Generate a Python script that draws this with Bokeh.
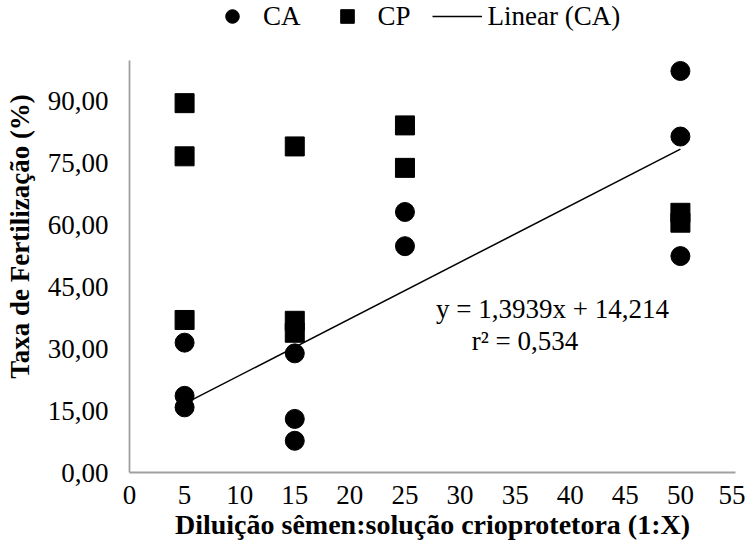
import numpy as np
from bokeh.plotting import figure
from bokeh.models import Range1d, FixedTicker, Legend, LegendItem, Label
from bokeh.embed import file_html
from bokeh.resources import INLINE

# Data
ca_x = [5, 5, 5, 15, 15, 15, 25, 25, 50, 50, 50]
ca_y = [31.5, 18.6, 15.8, 28.9, 13.0, 7.7, 63.2, 54.9, 97.4, 81.5, 52.5]
cp_x = [5, 5, 5, 15, 15, 15, 25, 25, 50, 50]
cp_y = [89.6, 76.7, 37.0, 79.1, 36.8, 33.9, 84.2, 73.9, 63.0, 60.6]
x_ticks = [0, 5, 10, 15, 20, 25, 30, 35, 40, 45, 50, 55]
y_ticks = [0, 15, 30, 45, 60, 75, 90]
y_tick_labels = ["0,00", "15,00", "30,00", "45,00", "60,00", "75,00", "90,00"]
equation_text = "y = 1,3939x + 14,214"
r2_text = "r\u00b2 = 0,534"

FONT = "Liberation Serif"

# frame spans full top of figure; the y axis line is limited to 0..100 via bounds
p = figure(width=745, height=542, output_backend="svg", toolbar_location=None,
           x_range=Range1d(0, 55), y_range=Range1d(0, 114.5),
           min_border_left=129, min_border_right=10, min_border_top=0, min_border_bottom=68)
p.outline_line_color = None
p.xgrid.visible = False
p.ygrid.visible = False

# trend line computed from the CA data
slope, intercept = np.polyfit(ca_x, ca_y, 1)
tx = [min(ca_x), max(ca_x)]
ty = [slope * v + intercept for v in tx]

r_ca = p.scatter(ca_x, ca_y, marker="circle", size=19, color="black")
r_cp = p.scatter(cp_x, cp_y, marker="square", size=19, color="black")
r_lin = p.line(tx, ty, line_color="black", line_width=1.5)

for ax in (p.xaxis[0], p.yaxis[0]):
    ax.axis_line_color = "#a0a0a0"
    ax.axis_line_width = 1.8
    ax.major_tick_line_color = None
    ax.minor_tick_line_color = None
    ax.major_tick_out = 0
    ax.major_tick_in = 0
    ax.major_label_text_font = FONT
    ax.major_label_text_font_size = "27px"
    ax.major_label_text_color = "black"
    ax.axis_label_text_font = FONT
    ax.axis_label_text_font_style = "bold"
    ax.axis_label_text_color = "black"

p.xaxis.axis_label_text_font_size = "28px"
p.yaxis.axis_label_text_font_size = "27px"
p.yaxis.bounds = (0, 100)
p.xaxis.ticker = FixedTicker(ticks=x_ticks)
p.yaxis.ticker = FixedTicker(ticks=y_ticks)
p.yaxis.major_label_overrides = {t: l for t, l in zip(y_ticks, y_tick_labels)}
p.xaxis.major_label_standoff = 13
p.yaxis.major_label_standoff = 21
p.xaxis.axis_label_standoff = 2
p.yaxis.axis_label_standoff = 10
p.xaxis.axis_label = "Diluição sêmen:solução crioprotetora (1:X)"
p.yaxis.axis_label = "Taxa de Fertilização (%)"

p.add_layout(Label(x=38.4, y=39.6, text=equation_text, text_font=FONT,
                   text_font_size="27px", text_align="center", text_baseline="middle",
                   text_color="black"))
p.add_layout(Label(x=35.9, y=31.9, text=r2_text, text_font=FONT,
                   text_font_size="27px", text_align="center", text_baseline="middle",
                   text_color="black"))

legend = Legend(items=[LegendItem(label="CA", renderers=[r_ca]),
                       LegendItem(label="CP", renderers=[r_cp]),
                       LegendItem(label="Linear (CA)", renderers=[r_lin])],
                orientation="horizontal", location=(78, 439),
                glyph_width=50, glyph_height=34, label_standoff=6, spacing=21,
                padding=0, margin=0, border_line_color=None, background_fill_alpha=0,
                label_text_font=FONT, label_text_font_size="27px", label_text_color="black")
p.add_layout(legend)

open("out.html", "w").write(file_html(p, INLINE))
